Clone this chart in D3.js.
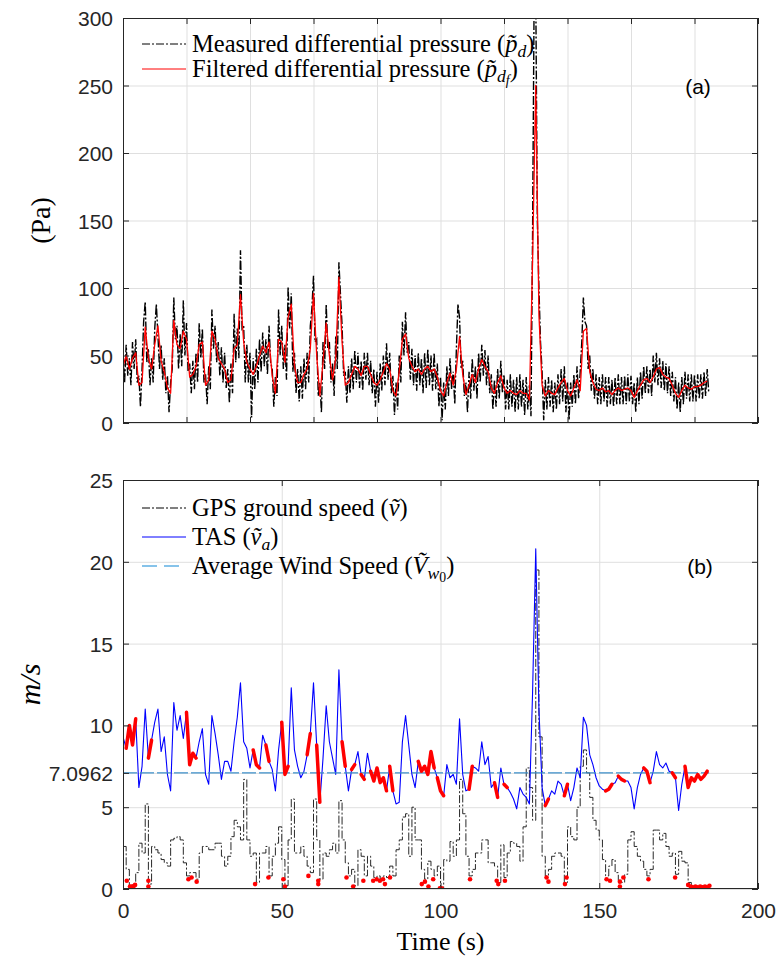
<!DOCTYPE html>
<html>
<head>
<meta charset="utf-8">
<script src="https://cdn.jsdelivr.net/npm/d3@7"></script>
<style>
  body { margin: 0; background: #fff; }
  svg { display: block; }
  .axis text { font-family: "Liberation Sans", Arial, sans-serif; font-size: 21px; fill: #262626; }
  .axis line { stroke: #262626; }
  .axis path { display: none; }
  .grid line { stroke: #dfdfdf; stroke-width: 1; }
  .grid path, .grid text { display: none; }
  .serif { font-family: "Liberation Serif", "Times New Roman", serif; fill: #000; }
</style>
</head>
<body>
<svg id="chart" width="782" height="958"></svg>
<script>
/* Two-panel figure: (a) differential pressure, (b) speeds. */

/* ---------- Data ---------- */

// (a) measured differential pressure, Pa, sampled every 0.5 s from t = 0
const MEAS_STEP = 0.5;
const measuredPd = [
  52,30,58,35,48,28,60,40,62,30,35,12,40,75,90,45,55,28,48,30,
  70,88,65,40,58,32,48,22,35,8,30,40,93,62,72,40,66,42,91,50,
  74,38,44,22,46,25,52,30,74,48,70,30,36,14,42,25,84,55,72,45,
  60,35,56,30,52,26,40,15,44,22,81,45,70,48,128,70,72,30,58,30,
  52,4,48,25,55,30,62,38,67,42,62,36,72,45,40,12,34,20,84,50,
  72,40,58,32,101,70,96,38,52,22,40,16,42,18,48,25,52,30,72,85,
  109,60,62,20,30,8,60,40,88,55,60,30,44,20,64,40,119,95,72,35,
  38,15,42,22,48,25,54,30,52,26,46,24,52,32,52,28,46,22,40,12,
  38,15,44,24,50,28,59,32,52,22,35,6,30,10,50,30,75,50,82,52,
  60,32,55,28,50,24,52,28,48,22,52,26,55,28,50,24,52,25,44,12,
  34,2,30,10,42,20,48,25,38,14,55,88,78,40,46,20,30,8,38,18,
  48,24,42,18,52,30,58,35,54,28,50,22,36,10,32,12,40,18,46,22,
  36,10,32,10,36,12,32,8,34,10,36,12,32,6,34,10,28,5,140,320,
  320,150,100,60,38,2,32,10,34,12,32,8,30,10,36,14,40,16,42,8,
  30,2,30,12,36,14,42,18,38,60,93,75,72,40,50,24,40,18,36,14,
  34,14,36,16,34,12,34,14,32,12,34,14,36,14,34,14,35,14,36,16,
  35,14,30,8,34,14,38,18,42,22,42,22,40,20,50,30,52,28,48,26,
  46,24,44,22,42,20,38,16,34,10,30,8,34,14,38,18,36,16,36,16,
  36,16,36,18,36,18,38,20,40,22
];

// (a) filtered differential pressure, Pa, every 1 s
const SIG_STEP = 1;
const filteredPd = [
  42,50,40,48,52,28,30,71,48,40, 58,72,46,38,26,22,76,58,55,68,
  62,34,36,42,58,60,28,32,68,62, 48,44,40,30,32,55,58,95,60,45,
  40,36,42,50,57,52,60,35,22,62, 60,45,78,88,42,30,30,36,40,55,
  96,50,20,45,74,50,32,48,108,60, 28,30,36,42,40,35,42,42,36,30,
  28,32,38,44,40,24,20,38,62,66, 48,42,38,40,36,40,42,38,40,34,
  24,20,30,37,28,40,64,36,21,28, 36,30,40,47,42,38,26,22,30,35,
  26,22,24,22,21,24,22,22,17,120, 250,80,28,20,24,22,21,26,30,33,
  24,20,26,32,24,68,70,38,30,25, 24,26,23,24,21,24,26,24,25,26,
  24,19,24,28,32,33,30,34,40,41, 36,34,33,28,22,19,24,28,26,25,
  27,27,28,30,31
];

// (b) true air speed, m/s, every 1 s
const tas = [
  9.3,8.6,10.0,8.8,10.4,6.2,7.5,11.0,8.0,9.1, 10.2,11.0,8.4,9.3,7.0,6.0,11.4,9.7,10.6,9.2,
  10.8,7.6,8.3,8.0,9.0,9.8,7.0,6.4,10.6,9.5, 8.2,6.7,7.8,7.8,7.2,9.0,10.5,12.6,9.0,8.6,
  7.4,8.5,7.6,7.4,9.4,8.8,7.8,7.3,6.0,8.5, 10.2,7.0,7.5,12.3,8.5,7.5,6.8,7.2,8.2,9.5,
  12.6,8.8,5.3,8.0,11.2,9.0,8.0,7.0,13.4,9.0, 7.5,6.0,7.3,7.6,8.4,7.0,6.7,8.3,7.2,6.6,
  7.4,6.5,6.8,6.0,7.5,6.0,5.2,5.3,9.0,10.6, 8.8,7.0,6.2,7.8,7.2,7.5,7.0,8.4,7.4,6.8,
  6.0,5.7,7.6,6.8,7.0,6.4,10.4,7.0,6.0,6.1, 7.5,7.4,7.2,9.0,7.6,8.1,6.2,6.5,5.6,7.4,
  6.4,6.2,5.9,5.5,4.9,6.2,5.8,5.6,5.2,12.0, 20.8,11.0,6.2,5.1,5.5,6.0,5.8,6.6,6.4,5.7,
  6.4,5.4,6.2,7.4,6.8,10.5,10.0,8.2,7.6,6.8, 6.3,6.1,6.0,6.1,6.4,6.5,6.9,6.7,6.6,6.6,
  6.2,4.9,6.2,7.0,7.4,7.2,6.5,7.2,8.4,7.6, 7.4,7.7,7.2,7.1,6.8,4.8,6.4,7.5,6.2,6.8,
  6.6,7.0,6.7,6.9,7.2
];

// (b) GPS ground speed, m/s, every 1 s
const groundSpeed = [
  2.6,1.2,0.2,0.3,1.0,2.8,2.2,5.2,0.3,2.6, 2.4,2.2,1.8,1.6,1.4,3.0,3.1,3.2,3.0,1.6,
  0.8,1.0,1.0,0.6,2.2,2.6,2.6,2.4,2.4,2.8, 2.8,2.0,1.4,2.0,3.2,4.2,3.8,3.0,6.7,3.0,
  2.0,2.2,0.4,2.2,2.2,2.6,0.8,2.0,2.8,3.8, 1.8,0.2,3.0,5.5,2.2,2.2,2.6,2.0,1.4,1.0,
  5.5,3.0,0.6,2.2,2.0,2.4,2.8,2.2,5.4,3.0, 1.6,0.8,1.2,0.2,2.4,2.0,0.8,2.0,1.4,0.7,
  0.8,0.6,0.8,0.7,1.4,0.8,2.4,3.0,4.4,4.6, 2.0,5.0,3.0,3.0,1.2,0.6,1.7,1.2,0.8,1.4,
  0.05,1.8,1.7,2.9,2.0,3.0,6.7,4.6,2.0,0.8, 1.2,2.2,2.2,3.0,3.0,1.6,1.6,1.4,0.4,2.7,
  0.7,2.2,2.9,2.8,2.6,1.7,3.8,7.4,6.2,4.2, 19.5,9.3,2.0,0.8,1.2,2.0,2.2,2.2,2.0,0.4,
  3.8,3.2,3.0,5.0,7.5,8.5,7.1,5.6,4.2,3.6, 3.0,1.8,0.8,1.4,1.8,1.0,0.5,0.4,0.9,3.0,
  3.5,2.6,2.0,1.7,1.2,0.8,1.2,3.6,3.6,3.0, 3.4,2.6,2.0,2.2,0.9,2.3,1.7,1.6,0.4,0.2,
  0.15,0.1,0.2,0.1,0.15
];

const avgWindSpeed = 7.0962;
const windSpan = [0, 184.6];

// time spans (s) where the TAS trace is highlighted in red
const tasRedSpans = [
  [1,4],[8,9],[20,23],[41,43],[45,46],[50,52],[58,59],[61,62],[69,70],[72,73],
  [75,76],[78,83],[84,85],[93,98],[99,101],[109,110],[117,118],[120,121],[133,134],
  [139,140],[152,154],[156,158],[164,166],[173,174],[177,184]
];

// red markers on the ground-speed trace: [t (s), v (m/s)]
const groundRedDots = [
  [1.2,0.5],[2.2,0.15],[2.8,0.15],[3.3,0.15],[3.8,0.25],[8.0,0.5],[8.0,0.15],[20.6,0.6],
  [21.6,0.7],[23.2,0.45],[41.6,0.3],[45.8,0.7],[50.5,0.6],[51.0,0.15],[58.4,0.8],[61.5,0.5],
  [61.5,0.3],[70.4,0.7],[72.5,0.15],[75.7,0.5],[78.8,0.5],[79.9,0.6],[80.9,0.5],[81.9,0.6],
  [82.5,0.3],[84.1,0.7],[94.1,0.3],[95.1,0.45],[96.2,0.15],[97.7,0.6],[99.8,0.05],[100.4,0.05],
  [109.3,0.6],[117.7,0.5],[118.2,0.3],[120.3,0.5],[133.4,0.7],[134.0,0.45],[139.2,0.3],
  [139.7,0.7],[152.3,0.6],[153.4,0.5],[156.5,0.45],[156.5,0.15],[157.6,0.7],[165.5,0.6],
  [173.9,0.7],[178.0,0.25],[178.8,0.15],[179.5,0.1],[180.3,0.15],[181.0,0.1],[181.8,0.15],
  [182.5,0.1],[183.3,0.15],[184.0,0.1],[184.7,0.2]
];

const xDomain = [0, 200];
const xTicksA = d3.range(0, 201, 20);
const xTicksB = [0, 50, 100, 150, 200];
const yDomainA = [0, 300];
const yTicksA = [0, 50, 100, 150, 200, 250, 300];
const yDomainB = [0, 25];
const yTicksB = [0, 5, avgWindSpeed, 10, 15, 20, 25];

/* ---------- Layout ---------- */

const svg = d3.select("#chart");
const X0 = 123, X1 = 758;
const PANEL_A = { top: 18, bottom: 423 };
const PANEL_B = { top: 480, bottom: 889 };
const TICK = 6;

const x = d3.scaleLinear().domain(xDomain).range([X0, X1]);
const yA = d3.scaleLinear().domain(yDomainA).range([PANEL_A.bottom, PANEL_A.top]);
const yB = d3.scaleLinear().domain(yDomainB).range([PANEL_B.bottom, PANEL_B.top]);

const DASHDOT = "8,2,2,2";

function drawFrame(y, xt, yt, { xLabels, yFormat, clipId }) {
  const [b, t] = y.range();
  const g = svg.append("g");
  const w = X1 - X0, h = b - t;

  g.append("defs").append("clipPath").attr("id", clipId)
    .append("rect").attr("x", X0).attr("y", t).attr("width", w).attr("height", h);

  g.append("g").attr("class", "grid").attr("transform", `translate(0,${b})`)
    .call(d3.axisBottom(x).tickValues(xt).tickSize(-h).tickFormat(""));
  g.append("g").attr("class", "grid").attr("transform", `translate(${X0},0)`)
    .call(d3.axisLeft(y).tickValues(yt).tickSize(-w).tickFormat(""));

  const plot = svg.append("g").attr("clip-path", `url(#${clipId})`);

  // axes go on after the data so ticks and box sit on top
  const finish = () => {
    const a = svg.append("g");
    a.append("g").attr("class", "axis x-bottom").attr("transform", `translate(0,${b})`)
      .call(d3.axisBottom(x).tickValues(xt).tickSizeInner(-TICK).tickSizeOuter(0).tickPadding(14)
        .tickFormat(xLabels ? d3.format("d") : ""));
    a.append("g").attr("class", "axis").attr("transform", `translate(0,${t})`)
      .call(d3.axisTop(x).tickValues(xt).tickSizeInner(-TICK).tickSizeOuter(0).tickFormat(""));
    a.append("g").attr("class", "axis y-left").attr("transform", `translate(${X0},0)`)
      .call(d3.axisLeft(y).tickValues(yt).tickSizeInner(-TICK).tickSizeOuter(0).tickPadding(10)
        .tickFormat(yFormat));
    a.append("g").attr("class", "axis").attr("transform", `translate(${X1},0)`)
      .call(d3.axisRight(y).tickValues(yt).tickSizeInner(-TICK).tickSizeOuter(0).tickFormat(""));
    a.append("rect").attr("x", X0 + 0.5).attr("y", t + 0.5).attr("width", w - 1).attr("height", h - 1)
      .attr("fill", "none").attr("stroke", "#262626").attr("stroke-width", 1);
    a.selectAll(".y-left text").attr("dy", null).attr("dominant-baseline", "central");
    a.selectAll(".x-bottom text").attr("dy", null).attr("dominant-baseline", "hanging");
  };
  return { plot, finish };
}

/* ---------- Rich text (serif labels with simple math) ---------- */

// parts: [text, italic, level]  (level 1 = subscript, 2 = sub-subscript)
function rich(sel, parts, size) {
  let level = 0;
  const scale = [1, 0.72, 0.56];
  const shift = [0, 0.2, 0.34];
  parts.forEach(([txt, it, lv = 0]) => {
    const ts = sel.append("tspan").text(txt)
      .attr("font-size", size * scale[lv])
      .attr("font-style", it ? "italic" : "normal");
    if (lv !== level) ts.attr("dy", (shift[lv] - shift[level]) * size);
    level = lv;
  });
}

function legend(items, lx, ly, rowH, size) {
  const g = svg.append("g");
  items.forEach((it, i) => {
    const cy = ly + i * rowH;
    g.append("line").attr("x1", lx).attr("x2", lx + 44).attr("y1", cy).attr("y2", cy)
      .attr("stroke", it.color).attr("stroke-width", it.width || 1)
      .attr("stroke-dasharray", it.dash || null);
    const t = g.append("text").attr("class", "serif").attr("x", lx + 50).attr("y", cy + size * 0.32)
      .attr("font-size", size);
    rich(t, it.parts, size);
  });
}

/* ---------- Panel (a) ---------- */

const pa = drawFrame(yA, xTicksA, yTicksA, { xLabels: false, yFormat: d3.format("d"), clipId: "clipA" });

const measPts = measuredPd.map((v, i) => [i * MEAS_STEP, v]);
const filtPts = filteredPd.map((v, i) => [i * SIG_STEP, v]);
const lineA = d3.line().x((d) => x(d[0])).y((d) => yA(d[1]));

pa.plot.append("path").attr("d", lineA(measPts)).attr("fill", "none")
  .attr("stroke", "#000").attr("stroke-width", 1.4).attr("stroke-dasharray", "9,2,2,2");
pa.plot.append("path").attr("d", lineA(filtPts)).attr("fill", "none")
  .attr("stroke", "#ff0000").attr("stroke-width", 1.3).attr("stroke-linejoin", "round");
pa.finish();

/* ---------- Panel (b) ---------- */

const fmtB = (d) => (d === avgWindSpeed ? "7.0962" : d3.format("d")(d));
const pb = drawFrame(yB, xTicksB, yTicksB, { xLabels: true, yFormat: fmtB, clipId: "clipB" });

const lineB = d3.line().x((d) => x(d[0])).y((d) => yB(d[1]));
const stepB = d3.line().x((d) => x(d[0])).y((d) => yB(d[1])).curve(d3.curveStepAfter);
const tasPts = tas.map((v, i) => [i * SIG_STEP, v]);
const gsPts = groundSpeed.map((v, i) => [i * SIG_STEP, v]);

pb.plot.append("path").attr("d", stepB(gsPts)).attr("fill", "none")
  .attr("stroke", "#111").attr("stroke-width", 0.9).attr("stroke-dasharray", DASHDOT);

pb.plot.append("path").attr("d", lineB(tasPts)).attr("fill", "none")
  .attr("stroke", "#0000ff").attr("stroke-width", 1.1).attr("stroke-linejoin", "round");

pb.plot.append("line")
  .attr("x1", x(windSpan[0])).attr("x2", x(windSpan[1]))
  .attr("y1", yB(avgWindSpeed)).attr("y2", yB(avgWindSpeed))
  .attr("stroke", "#3d8fc9").attr("stroke-width", 1.2).attr("stroke-dasharray", "14,3");

tasRedSpans.forEach(([a, b]) => {
  const seg = tasPts.filter((d) => d[0] >= a && d[0] <= b);
  pb.plot.append("path").attr("d", lineB(seg)).attr("fill", "none")
    .attr("stroke", "#ff0000").attr("stroke-width", 3.5)
    .attr("stroke-linecap", "round").attr("stroke-linejoin", "round");
});

pb.plot.selectAll("circle.gs").data(groundRedDots).join("circle").attr("class", "gs")
  .attr("cx", (d) => x(d[0])).attr("cy", (d) => yB(d[1])).attr("r", 2.3).attr("fill", "#ff0000");
pb.finish();

/* ---------- Labels & legends ---------- */

const LEG = 24.5;
legend([
  { color: "#000", dash: DASHDOT, parts: [["Measured differential pressure (", false], ["p\u0303", true], ["d", true, 1], [")", false]] },
  { color: "#ff0000", parts: [["Filtered differential pressure (", false], ["p\u0303", true], ["d", true, 1], ["f", true, 2], [")", false, 0]] }
], 142, 44, 25, LEG);

legend([
  { color: "#000", dash: DASHDOT, parts: [["GPS ground speed (", false], ["v\u0303", true], [")", false]] },
  { color: "#0000ff", parts: [["TAS (", false], ["v\u0303", true], ["a", true, 1], [")", false, 0]] },
  { color: "#5fb0e4", width: 1.5, dash: "15,7", parts: [["Average Wind Speed (", false], ["V\u0303", true], ["w", true, 1], ["0", false, 2], [")", false, 0]] }
], 142, 508, 29, LEG);

svg.append("text").attr("x", 698).attr("y", 86).attr("text-anchor", "middle")
  .attr("dominant-baseline", "central")
  .style("font-family", "Liberation Sans, Arial, sans-serif").style("font-size", "21px").text("(a)");
svg.append("text").attr("x", 700).attr("y", 566).attr("text-anchor", "middle")
  .attr("dominant-baseline", "central")
  .style("font-family", "Liberation Sans, Arial, sans-serif").style("font-size", "21px").text("(b)");

svg.append("text").attr("class", "serif").attr("font-size", 28)
  .attr("transform", `translate(50,${(PANEL_A.top + PANEL_A.bottom) / 2}) rotate(-90)`)
  .attr("text-anchor", "middle").text("(Pa)");
svg.append("text").attr("class", "serif").attr("font-size", 30).attr("font-style", "italic")
  .attr("transform", `translate(40,${(PANEL_B.top + PANEL_B.bottom) / 2}) rotate(-90)`)
  .attr("text-anchor", "middle").text("m/s");
svg.append("text").attr("class", "serif").attr("font-size", 26)
  .attr("x", (X0 + X1) / 2).attr("y", 950).attr("text-anchor", "middle").text("Time (s)");
</script>
</body>
</html>
